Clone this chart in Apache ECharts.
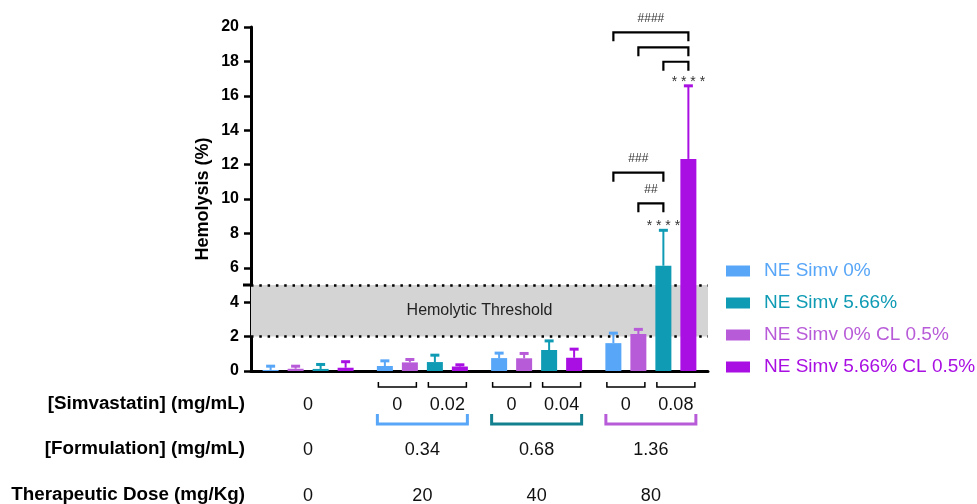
<!DOCTYPE html>
<html>
<head>
<meta charset="utf-8">
<script src="https://cdn.jsdelivr.net/npm/echarts@6/dist/echarts.min.js"></script>
<style>
  html, body { margin: 0; padding: 0; background: #fff; }
  #chart { width: 977px; height: 504px; }
</style>
</head>
<body>
<div id="chart"></div>
<script>
// therapeutic dose groups (mg/Kg), used as the x categories
var categories = ['0', '20', '40', '80'];
var simvLabels = [['0'], ['0', '0.02'], ['0', '0.04'], ['0', '0.08']];
var formulationLabels = ['0', '0.34', '0.68', '1.36'];
var rowTitles = ['[Simvastatin] (mg/mL)', '[Formulation] (mg/mL)', 'Therapeutic Dose (mg/Kg)'];

// bar order inside a group
var seriesNames = ['NE Simv 0%', 'NE Simv 0% CL 0.5%', 'NE Simv 5.66%', 'NE Simv 5.66% CL 0.5%'];
var legendOrder = ['NE Simv 0%', 'NE Simv 5.66%', 'NE Simv 0% CL 0.5%', 'NE Simv 5.66% CL 0.5%'];
var seriesColors = ['#58a6f7', '#b85bd8', '#0f9bb4', '#a90fe2'];
var bracketColors = [null, '#58a6f7', '#13808f', '#b85bd8'];

// mean hemolysis (%) and SD
var simv0 = [0.06, 0.29, 0.75, 1.62];
var simv0Sd = [0.22, 0.30, 0.29, 0.58];
var simv0Cl = [0.13, 0.50, 0.74, 2.15];
var simv0ClSd = [0.15, 0.17, 0.28, 0.27];
var simv566 = [0.12, 0.52, 1.22, 6.12];
var simv566Sd = [0.26, 0.40, 0.53, 2.06];
var simv566Cl = [0.19, 0.26, 0.77, 12.33];
var simv566ClSd = [0.35, 0.10, 0.50, 4.25];

var thresholdLow = 2;
var thresholdHigh = 5;

// significance brackets (all in the 80 mg/Kg group)
var sigGroup = [3, 3, 3, 3, 3];
var sigFrom = [0, 1, 2, 0, 1];
var sigTo = [3, 3, 3, 2, 2];
var sigY = [19.69, 18.82, 17.98, 11.53, 9.75];
var sigText = ['####', '', '', '###', '##'];
var starGroup = [3, 3];
var starBar = [2, 3];
var starText = ['* * * *', '* * * *'];

var FONT = '"Liberation Sans", Arial, Helvetica, sans-serif';
var barW = 16, barStep = 25;

var means = [simv0, simv0Cl, simv566, simv566Cl];
var sds = [simv0Sd, simv0ClSd, simv566Sd, simv566ClSd];

var chart = echarts.init(document.getElementById('chart'));

function renderError(params, api) {
  var c = api.value(0), m = api.value(1), sd = api.value(2), k = api.value(3);
  var base = api.coord([c, m]);
  var top = api.coord([c, m + sd]);
  var x = base[0] + (k - 1.5) * barStep;
  var color = seriesColors[k];
  return {
    type: 'group',
    children: [
      { type: 'line', shape: { x1: x, y1: base[1], x2: x, y2: top[1] }, style: { stroke: color, lineWidth: 2 } },
      { type: 'line', shape: { x1: x - 4.5, y1: top[1], x2: x + 4.5, y2: top[1] }, style: { stroke: color, lineWidth: 3 } }
    ]
  };
}

function renderSig(params, api) {
  var g = api.value(0), from = api.value(1), to = api.value(2), y = api.value(3);
  var p = api.coord([g, y]);
  var x1 = p[0] + (from - 1.5) * barStep, x2 = p[0] + (to - 1.5) * barStep, yy = p[1];
  var children = [{
    type: 'polyline',
    shape: { points: [[x1, yy + 9], [x1, yy], [x2, yy], [x2, yy + 9]] },
    style: { stroke: '#000', lineWidth: 2.2, fill: 'none' }
  }];
  var t = sigText[params.dataIndex];
  if (t) {
    children.push({ type: 'text', style: { text: t, x: (x1 + x2) / 2, y: yy - 13.5, align: 'center', verticalAlign: 'middle', fontSize: 12, fontFamily: FONT, fill: '#333' } });
  }
  return { type: 'group', children: children };
}

function renderStar(params, api) {
  var g = api.value(0), k = api.value(1), top = api.value(2);
  var p = api.coord([g, top]);
  var x = p[0] + (k - 1.5) * barStep;
  return { type: 'text', style: { text: starText[params.dataIndex], x: x, y: p[1] - 4, align: 'center', verticalAlign: 'middle', fontSize: 14, fontFamily: FONT, fill: '#333' } };
}

function textEl(t, x, y) {
  return { type: 'text', style: { text: t, x: x, y: y, align: 'center', verticalAlign: 'middle', fontSize: 18, fontFamily: FONT, fill: '#111' } };
}

function renderTable(params, api) {
  var c = api.value(0);
  var p = api.coord([c, 0]);
  var cx = p[0], y0 = p[1];
  var children = [];
  var simv = simvLabels[c];
  if (simv.length === 1) {
    children.push(textEl(simv[0], cx, y0 + 34));
  } else {
    [-1, 1].forEach(function (s, i) {
      var a = cx + s * 6, b = cx + s * 44;
      children.push({ type: 'polyline', shape: { points: [[a, y0 + 11], [a, y0 + 16], [b, y0 + 16], [b, y0 + 11]] }, style: { stroke: '#000', lineWidth: 1.5, fill: 'none' } });
      children.push(textEl(simv[i], cx + s * 25, y0 + 34));
    });
    children.push({ type: 'polyline', shape: { points: [[cx - 45, y0 + 43], [cx - 45, y0 + 53], [cx + 45, y0 + 53], [cx + 45, y0 + 43]] }, style: { stroke: bracketColors[c], lineWidth: 3, fill: 'none' } });
  }
  children.push(textEl(formulationLabels[c], cx, y0 + 79));
  children.push(textEl(categories[c], cx, y0 + 125));
  return { type: 'group', children: children };
}

function renderTick(params, api) {
  var p = api.coord([0, api.value(1)]);
  var x = params.coordSys.x;
  return { type: 'line', shape: { x1: x - 8, y1: p[1], x2: x, y2: p[1] }, style: { stroke: '#000', lineWidth: 3 } };
}

var series = seriesNames.map(function (name, k) {
  var s = {
    name: name,
    type: 'bar',
    data: means[k],
    barWidth: barW,
    barGap: ((barStep - barW) / barW * 100) + '%',
    itemStyle: { color: seriesColors[k] },
    emphasis: { disabled: true },
    z: 2
  };
  if (k === 0) {
    s.markArea = {
      silent: true,
      z: 1,
      itemStyle: { color: '#d4d4d4' },
      label: { show: true, position: 'inside', color: '#222', fontSize: 16, fontFamily: FONT },
      data: [[{ name: 'Hemolytic Threshold', yAxis: thresholdLow }, { yAxis: thresholdHigh }]]
    };
    s.markLine = {
      silent: true,
      z: 1.5,
      symbol: 'none',
      label: { show: false },
      lineStyle: { type: [2.5, 5.8], color: '#000', width: 2.5 },
      data: [{ yAxis: thresholdLow }, { yAxis: thresholdHigh }]
    };
  }
  return s;
});

var errData = [];
means.forEach(function (arr, k) {
  arr.forEach(function (v, c) { errData.push([c, v, sds[k][c], k]); });
});
series.push({ type: 'custom', name: 'err', renderItem: renderError, data: errData, encode: { x: 0, y: 1 }, z: 3, silent: true });

series.push({
  type: 'custom', name: 'sig', renderItem: renderSig, clip: false, silent: true, z: 4,
  encode: { x: 0, y: 3 },
  data: sigGroup.map(function (g, i) { return [g, sigFrom[i], sigTo[i], sigY[i]]; })
});

series.push({
  type: 'custom', name: 'stars', renderItem: renderStar, clip: false, silent: true, z: 4,
  encode: { x: 0, y: 2 },
  data: starGroup.map(function (g, i) { var k = starBar[i]; return [g, k, means[k][g] + sds[k][g]]; })
});

series.push({
  type: 'custom', name: 'table', renderItem: renderTable, clip: false, silent: true,
  encode: { x: 0, y: 1 },
  data: categories.map(function (c, i) { return [i, 0]; })
});

series.push({
  type: 'custom', name: 'tick5', renderItem: renderTick, clip: false, silent: true, z: 5,
  encode: { x: 0, y: 1 },
  data: [[0, thresholdHigh]]
});

var titleYs = [34, 79, 125];

var option = {
  animation: false,
  textStyle: { fontFamily: FONT },
  grid: { left: 251, right: 269, top: 27, bottom: 133 },
  legend: {
    orient: 'vertical',
    left: 726,
    top: 261,
    padding: 0,
    itemWidth: 24,
    itemHeight: 11,
    itemGap: 12,
    icon: 'rect',
    selectedMode: false,
    textStyle: { fontSize: 19, lineHeight: 20, fontFamily: FONT, padding: [0, 0, 0, 9] },
    data: legendOrder.map(function (n) {
      return { name: n, textStyle: { color: seriesColors[seriesNames.indexOf(n)] } };
    })
  },
  xAxis: {
    type: 'category',
    data: categories,
    axisLine: { lineStyle: { color: '#000', width: 3 } },
    axisTick: { alignWithLabel: true, length: 8, lineStyle: { color: '#000', width: 3 } },
    axisLabel: { show: false }
  },
  yAxis: {
    type: 'value',
    min: 0,
    max: 20,
    interval: 2,
    name: 'Hemolysis (%)',
    nameLocation: 'middle',
    nameRotate: 90,
    nameGap: 39,
    nameTextStyle: { fontSize: 18, fontWeight: 'bold', color: '#000', fontFamily: FONT },
    axisLine: { show: true, lineStyle: { color: '#000', width: 3 } },
    axisTick: { show: true, length: 7, lineStyle: { color: '#000', width: 2.5 } },
    axisLabel: { fontSize: 16, fontWeight: 'bold', color: '#000', margin: 12, fontFamily: FONT },
    splitLine: { show: false }
  },
  graphic: rowTitles.map(function (t, i) {
    return {
      type: 'text',
      right: 977 - 245,
      top: 371 + titleYs[i] - 11,
      style: { text: t, fontSize: 18.8, fontWeight: 'bold', fontFamily: FONT, fill: '#000' }
    };
  }),
  series: series
};

chart.setOption(option);
</script>
</body>
</html>
